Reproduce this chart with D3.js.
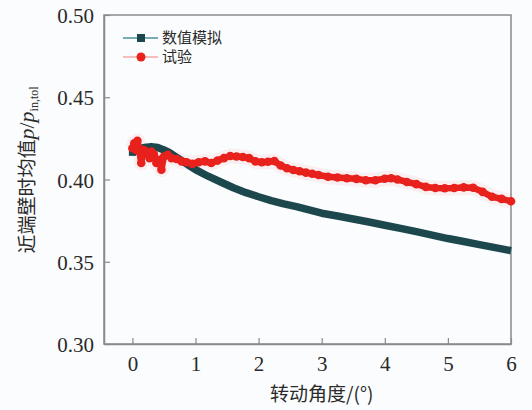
<!DOCTYPE html>
<html>
<head>
<meta charset="utf-8">
<script src="https://cdn.jsdelivr.net/npm/d3@7"></script>
<style>
  body { margin: 0; background: #fbfcfd; }
  svg { display: block; }
</style>
</head>
<body>
<div id="chart"></div>
<script>
// simulated (数值模拟) curve
const simX = [0.00, 0.10, 0.20, 0.30, 0.40, 0.50, 0.60, 0.70, 0.80, 0.90, 1.00, 1.20, 1.40, 1.60, 1.80,
  2.00, 2.20, 2.40, 2.60, 2.80, 3.00, 3.25, 3.50, 3.75, 4.00, 4.25, 4.50, 4.75, 5.00, 5.25, 5.50, 5.75, 6.00];
const simY = [0.4165, 0.4180, 0.4195, 0.4200, 0.4195, 0.4180, 0.4160, 0.4135, 0.4110, 0.4085, 0.4060, 0.4020, 0.3985, 0.3950, 0.3920,
  0.3895, 0.3872, 0.3852, 0.3835, 0.3815, 0.3795, 0.3778, 0.3760, 0.3742, 0.3722, 0.3703, 0.3683, 0.3662, 0.3641, 0.3623, 0.3604, 0.3586, 0.3567];

// experiment (试验) points
const expX = [0.00, 0.03, 0.06, 0.08, 0.11, 0.14, 0.17, 0.20, 0.24, 0.27, 0.30, 0.34, 0.38, 0.42, 0.46, 0.50,
  0.56, 0.62, 0.70, 0.78, 0.86, 0.95, 1.05, 1.15, 1.25, 1.35, 1.45, 1.55, 1.65, 1.75, 1.85, 1.95,
  2.05, 2.15, 2.25, 2.35, 2.45, 2.55, 2.65, 2.75, 2.85, 2.95, 3.10, 3.25, 3.40, 3.55, 3.70, 3.85,
  4.00, 4.10, 4.20, 4.35, 4.50, 4.65, 4.80, 4.95, 5.10, 5.25, 5.40, 5.55, 5.70, 5.85, 6.00];
const expY = [0.4190, 0.4220, 0.4180, 0.4235, 0.4170, 0.4100, 0.4180, 0.4175, 0.4160, 0.4130, 0.4170, 0.4155, 0.4100, 0.4120, 0.4060, 0.4140,
  0.4150, 0.4130, 0.4125, 0.4110, 0.4105, 0.4095, 0.4105, 0.4110, 0.4100, 0.4115, 0.4130, 0.4143, 0.4140, 0.4137, 0.4130, 0.4110,
  0.4105, 0.4108, 0.4112, 0.4085, 0.4068, 0.4058, 0.4050, 0.4042, 0.4035, 0.4027, 0.4017, 0.4012, 0.4008, 0.4004, 0.3995, 0.3995,
  0.4005, 0.4008, 0.4000, 0.3985, 0.3972, 0.3955, 0.3948, 0.3947, 0.3948, 0.3952, 0.3950, 0.3925, 0.3895, 0.3882, 0.3868];

const xTicks = [0, 1, 2, 3, 4, 5, 6];
const yTicks = [0.30, 0.35, 0.40, 0.45, 0.50];
const seriesNames = ["数值模拟", "试验"];

const simColor = "#1c474d";
const expColor = "#e8211c";

const W = 532, H = 410;
const mLeft = 104, mRight = 511, mTop = 15, mBottom = 344;

const svg = d3.select("#chart").append("svg")
  .attr("width", W).attr("height", H);

const x = d3.scaleLinear().domain([-0.45, 6]).range([mLeft, mRight]);
const y = d3.scaleLinear().domain([0.30, 0.50]).range([mBottom, mTop]);

const simData = simX.map((d, i) => [d, simY[i]]);
const expData = expX.map((d, i) => [d, expY[i]]);

const line = d3.line().x(d => x(d[0])).y(d => y(d[1]));

// frame
svg.append("rect")
  .attr("x", mLeft).attr("y", mTop)
  .attr("width", mRight - mLeft).attr("height", mBottom - mTop)
  .attr("fill", "none").attr("stroke", "#8a8a8a").attr("stroke-width", 1.5);

// axes, ticks pointing inward
const xAxis = svg.append("g")
  .attr("transform", "translate(0," + mBottom + ")")
  .call(d3.axisBottom(x).tickValues(xTicks).tickSizeInner(-6).tickSizeOuter(0).tickPadding(12).tickFormat(d3.format("d")));
const yAxis = svg.append("g")
  .attr("transform", "translate(" + mLeft + ",0)")
  .call(d3.axisLeft(y).tickValues(yTicks).tickSizeInner(-6).tickSizeOuter(0).tickPadding(10).tickFormat(d3.format(".2f")));

[xAxis, yAxis].forEach(g => {
  g.select(".domain").attr("stroke", "#8a8a8a").attr("stroke-width", 1.5);
  g.selectAll(".tick line").attr("stroke", "#8a8a8a").attr("stroke-width", 1.2);
  g.selectAll(".tick text")
    .attr("fill", "#2a2a2a")
    .style("font-family", "'Liberation Serif', 'Times New Roman', serif")
    .style("font-size", "21px");
});
yAxis.selectAll(".tick text").attr("dy", "0.36em");

// experiment: faint halo
svg.append("path").datum(expData)
  .attr("d", line).attr("fill", "none")
  .attr("stroke", expColor).attr("stroke-opacity", 0.06).attr("stroke-width", 15)
  .attr("stroke-linejoin", "round");

// simulation: thick line and squares
svg.append("path").datum(simData)
  .attr("d", line).attr("fill", "none")
  .attr("stroke", simColor).attr("stroke-width", 7.5)
  .attr("stroke-linejoin", "round");
svg.append("g").selectAll("rect")
  .data(simData.slice(0, 3))
  .join("rect")
  .attr("x", d => x(d[0]) - 3.5).attr("y", d => y(d[1]) - 3.5)
  .attr("width", 7).attr("height", 7)
  .attr("fill", simColor);

// experiment: line and circles
svg.append("path").datum(expData)
  .attr("d", line).attr("fill", "none")
  .attr("stroke", expColor).attr("stroke-width", 6.5)
  .attr("stroke-linejoin", "round");
svg.append("g").selectAll("circle")
  .data(expData)
  .join("circle")
  .attr("cx", d => x(d[0])).attr("cy", d => y(d[1]))
  .attr("r", 4.3)
  .attr("fill", expColor);

// legend
const legend = svg.append("g");
const legY = [38, 57];
legend.append("line")
  .attr("x1", 123).attr("x2", 158).attr("y1", legY[0]).attr("y2", legY[0])
  .attr("stroke", "#4f8f9c").attr("stroke-width", 1.5);
legend.append("rect")
  .attr("x", 141 - 4).attr("y", legY[0] - 4).attr("width", 8).attr("height", 8)
  .attr("fill", simColor);
legend.append("line")
  .attr("x1", 123).attr("x2", 158).attr("y1", legY[1]).attr("y2", legY[1])
  .attr("stroke", "#f4a9a6").attr("stroke-width", 1.5);
legend.append("circle")
  .attr("cx", 141).attr("cy", legY[1]).attr("r", 4.5)
  .attr("fill", expColor);
legend.selectAll("text")
  .data(seriesNames)
  .join("text")
  .attr("x", 162).attr("y", (d, i) => legY[i])
  .attr("dy", "0.36em")
  .attr("fill", "#2a2a2a")
  .style("font-family", "'Noto Sans CJK SC', sans-serif")
  .style("font-size", "15px")
  .text(d => d);

// axis titles
svg.append("text")
  .attr("x", x(3)).attr("y", 401)
  .attr("text-anchor", "middle")
  .attr("fill", "#2a2a2a")
  .style("font-family", "'Noto Sans CJK SC', sans-serif")
  .style("font-size", "19px")
  .text("转动角度/(°)");

const yTitle = svg.append("text")
  .attr("transform", "translate(34,170) rotate(-90)")
  .attr("text-anchor", "middle")
  .attr("fill", "#2a2a2a")
  .style("font-family", "'Noto Sans CJK SC', sans-serif")
  .style("font-size", "19px");
yTitle.append("tspan").text("近端壁时均值");
yTitle.append("tspan").style("font-family", "'Liberation Serif', serif").style("font-style", "italic").style("font-size", "22px").text("p");
yTitle.append("tspan").style("font-family", "'Liberation Serif', serif").style("font-size", "22px").text("/");
yTitle.append("tspan").style("font-family", "'Liberation Serif', serif").style("font-style", "italic").style("font-size", "22px").text("p");
yTitle.append("tspan").style("font-family", "'Liberation Serif', serif").style("font-size", "12px").attr("dy", 4).text("in,tol");
</script>
</body>
</html>
